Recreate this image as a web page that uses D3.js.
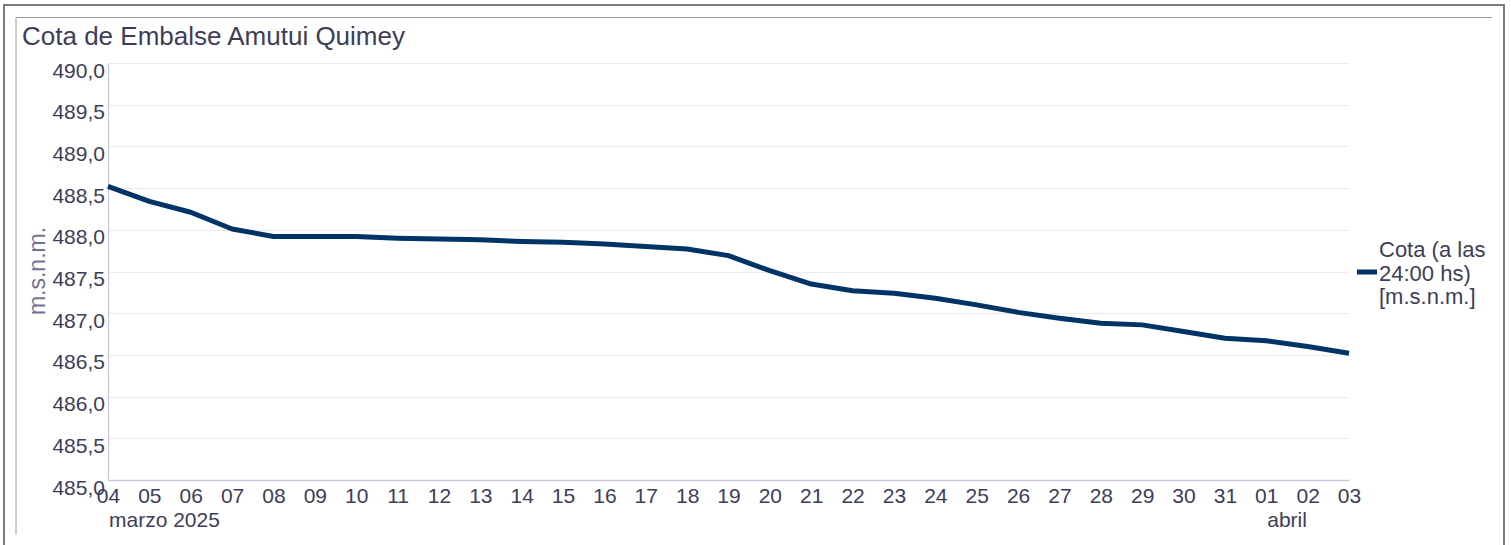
<!DOCTYPE html>
<html>
<head>
<meta charset="utf-8">
<script src="https://cdn.jsdelivr.net/npm/d3@7"></script>
<style>
  html, body { margin: 0; padding: 0; background: #fff; }
  svg { display: block; font-family: "Liberation Sans", Arial, sans-serif; }
</style>
</head>
<body>
<svg id="chart" width="1511" height="545"></svg>
<script>
// ---- data ----
const chartTitle = "Cota de Embalse Amutui Quimey";
const yAxisTitle = "m.s.n.m.";
const seriesName = ["Cota (a las", "24:00 hs)", "[m.s.n.m.]"];
const dates = [
  "2025-03-04","2025-03-05","2025-03-06","2025-03-07","2025-03-08","2025-03-09",
  "2025-03-10","2025-03-11","2025-03-12","2025-03-13","2025-03-14","2025-03-15",
  "2025-03-16","2025-03-17","2025-03-18","2025-03-19","2025-03-20","2025-03-21",
  "2025-03-22","2025-03-23","2025-03-24","2025-03-25","2025-03-26","2025-03-27",
  "2025-03-28","2025-03-29","2025-03-30","2025-03-31","2025-04-01","2025-04-02",
  "2025-04-03"
];
const cota = [
  488.52, 488.34, 488.21, 488.01, 487.92, 487.92,
  487.92, 487.90, 487.89, 487.88, 487.86, 487.85,
  487.83, 487.80, 487.77, 487.69, 487.51, 487.35,
  487.27, 487.24, 487.18, 487.10, 487.01, 486.94,
  486.88, 486.86, 486.78, 486.70, 486.67, 486.60,
  486.52
];
const yTicks = [485.0, 485.5, 486.0, 486.5, 487.0, 487.5, 488.0, 488.5, 489.0, 489.5, 490.0];
const secondLabels = [
  { date: "2025-03-04", text: "marzo 2025" },
  { date: "2025-04-01", text: "abril" }
];

// ---- setup ----
const svg = d3.select("#chart");
const parse = d3.utcParse("%Y-%m-%d");
const data = dates.map((d, i) => ({ date: parse(d), value: cota[i] }));
const margin = { left: 108, right: 1349, top: 63, bottom: 480 };
const textColor = "#3d3d5a";

const locale = d3.formatLocale({ decimal: ",", thousands: ".", grouping: [3], currency: ["$", ""] });
const yFmt = locale.format(".1f");

const x = d3.scaleUtc()
  .domain(d3.extent(data, d => d.date))
  .range([margin.left, margin.right]);
const y = d3.scaleLinear()
  .domain([485, 490])
  .range([margin.bottom, margin.top]);

// frames
svg.append("path")
  .attr("d", "M4,545 V5 H1504 V545")
  .attr("fill", "none").attr("stroke", "#7a7a7a").attr("stroke-width", 2);
svg.append("path")
  .attr("d", "M16,534.5 V17.5 H1492")
  .attr("fill", "none").attr("stroke", "#9a9a9a").attr("stroke-width", 1);

// title
svg.append("text")
  .attr("x", 22).attr("y", 45)
  .attr("font-size", 26).attr("fill", textColor)
  .text(chartTitle);

// gridlines
svg.append("g").selectAll("line")
  .data(yTicks.slice(1))
  .join("line")
  .attr("x1", margin.left).attr("x2", margin.right)
  .attr("y1", d => Math.round(y(d)) + 0.5).attr("y2", d => Math.round(y(d)) + 0.5)
  .attr("stroke", "#ebebeb").attr("stroke-width", 1);

// y axis
const yAxis = svg.append("g")
  .attr("transform", `translate(${margin.left},0)`)
  .call(d3.axisLeft(y).tickValues(yTicks).tickFormat(yFmt).tickSize(0).tickPadding(3));
yAxis.select(".domain").attr("stroke", "#c8c8dc").attr("stroke-width", 1.3);
yAxis.selectAll("text")
  .attr("font-size", 21).attr("fill", textColor)
  .attr("font-family", "Liberation Sans, Arial, sans-serif")
  .attr("dy", null).attr("y", 14);

// y axis title
svg.append("text")
  .attr("transform", `translate(45,271) rotate(-90)`)
  .attr("text-anchor", "middle")
  .attr("font-size", 23).attr("fill", "#727296")
  .text(yAxisTitle);

// x axis
const xAxis = svg.append("g")
  .attr("transform", `translate(0,${margin.bottom})`)
  .call(d3.axisBottom(x).tickValues(data.map(d => d.date)).tickFormat(d3.utcFormat("%d")).tickSize(0).tickPadding(8));
xAxis.select(".domain").attr("stroke", "#c8c8dc").attr("stroke-width", 1.3);
xAxis.selectAll("text")
  .attr("font-size", 21).attr("fill", textColor)
  .attr("font-family", "Liberation Sans, Arial, sans-serif");

svg.append("g").selectAll("text")
  .data(secondLabels)
  .join("text")
  .attr("x", d => x(parse(d.date)) + 1)
  .attr("y", 527)
  .attr("font-size", 21).attr("fill", textColor)
  .text(d => d.text);

// line
const line = d3.line().x(d => x(d.date)).y(d => y(d.value));
svg.append("path")
  .datum(data)
  .attr("d", line)
  .attr("fill", "none")
  .attr("stroke", "#003366")
  .attr("stroke-width", 5)
  .attr("stroke-linejoin", "round");

// legend
const lg = svg.append("g");
lg.append("line")
  .attr("x1", 1357).attr("x2", 1377).attr("y1", 272).attr("y2", 272)
  .attr("stroke", "#003366").attr("stroke-width", 5);
lg.append("text")
  .attr("x", 1379).attr("y", 257)
  .attr("font-size", 22).attr("fill", textColor)
  .selectAll("tspan")
  .data(seriesName)
  .join("tspan")
  .attr("x", 1379)
  .attr("dy", (d, i) => i === 0 ? 0 : 23.5)
  .text(d => d);
</script>
</body>
</html>
